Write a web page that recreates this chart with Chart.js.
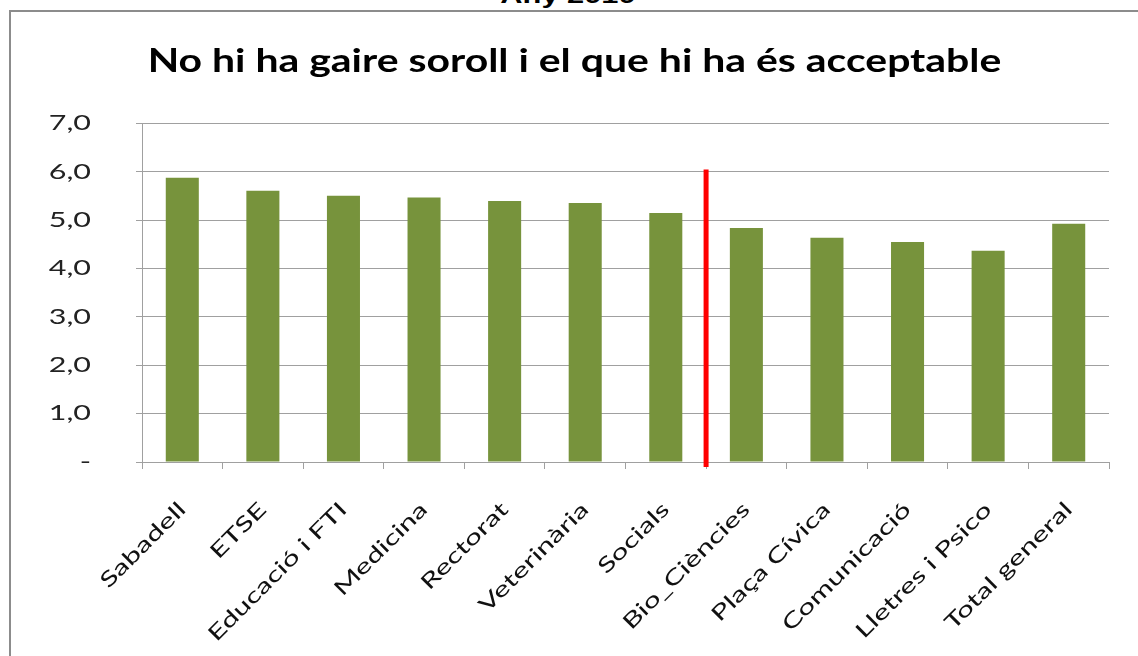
<!DOCTYPE html>
<html>
<head>
<meta charset="utf-8">
<script src="https://cdn.jsdelivr.net/npm/chart.js@4.4.0/dist/chart.umd.min.js"></script>
<style>
  html, body { margin: 0; padding: 0; background: #fff; }
  body { width: 1138px; height: 656px; position: relative; overflow: hidden; }
  .frame {
    position: absolute; left: 9px; top: 10px; width: 1200px; height: 700px;
    border-left: 2px solid #8c8c8c; border-top: 2px solid #8c8c8c;
  }
  .year {
    position: absolute; left: 0; width: 1136px; top: -15px; text-align: center;
    font: bold 22px "Liberation Sans", Arial, sans-serif; line-height: 22px; color: #000;
    transform: scaleX(1.4);
  }
  #wrap { position: absolute; left: 0; top: 0; width: 1138px; height: 656px; }
</style>
</head>
<body>
<div class="frame"></div>
<div class="year">Any 2010</div>
<div id="wrap"><canvas id="chart"></canvas></div>
<script>
const categories = [
  "Sabadell", "ETSE", "Educació i FTI", "Medicina", "Rectorat", "Veterinària",
  "Socials", "Bio_Ciències", "Plaça Cívica", "Comunicació", "Lletres i Psico", "Total general"
];
const scores = [5.88, 5.61, 5.51, 5.47, 5.40, 5.36, 5.15, 4.84, 4.64, 4.55, 4.37, 4.93];
const chartTitle = "No hi ha gaire soroll i el que hi ha és acceptable";
// red separator between Socials and Bio_Ciències
const splitAfter = 6;
const splitTop = 6.05;

// the original image has horizontally wide lettering, stretch text to match
const titleStretch = 1.24;
const labelStretch = 1.45;

const canvas = document.querySelector("#chart");
const ctx2d = canvas.getContext("2d");
const rawFillText = ctx2d.fillText;
ctx2d.fillText = function (text, x, y) {
  const sx = this.font.includes("bold") ? titleStretch : labelStretch;
  this.save();
  this.translate(x, y);
  this.scale(sx, 1);
  rawFillText.call(this, text, 0, 0);
  this.restore();
};

const separatorLine = {
  id: "separatorLine",
  afterDatasetsDraw(chart) {
    const { ctx, scales: { x, y } } = chart;
    const px = (x.getPixelForValue(splitAfter) + x.getPixelForValue(splitAfter + 1)) / 2;
    ctx.save();
    ctx.strokeStyle = "#ff0000";
    ctx.lineWidth = 5;
    ctx.beginPath();
    ctx.moveTo(px, y.getPixelForValue(splitTop));
    ctx.lineTo(px, y.getPixelForValue(0) + 5);
    ctx.stroke();
    ctx.restore();
  },
};

const font = "Lato, 'Open Sans', sans-serif";

new Chart(canvas, {
  type: "bar",
  data: {
    labels: categories,
    datasets: [
      {
        data: scores,
        backgroundColor: "#77933c",
        categoryPercentage: 1,
        barPercentage: 0.41,
      },
    ],
  },
  options: {
    responsive: true,
    maintainAspectRatio: false,
    animation: false,
    layout: { padding: { left: 40, right: 29, top: 0, bottom: 0 } },
    plugins: {
      legend: { display: false },
      tooltip: { enabled: false },
      title: {
        display: true,
        text: chartTitle,
        color: "#000",
        font: { family: font, size: 33, weight: "bold" },
        padding: { top: 42, bottom: 42 },
      },
    },
    scales: {
      y: {
        min: 0,
        max: 7,
        ticks: {
          stepSize: 1,
          color: "#222",
          padding: 45,
          font: { family: font, size: 21 },
          callback: (v) => (v === 0 ? "-" : v.toFixed(1).replace(".", ",")),
        },
        grid: { color: "#a0a0a0", tickLength: 6 },
        border: { color: "#a0a0a0" },
        afterFit: (s) => { s.width = 102; },
      },
      x: {
        ticks: {
          color: "#111",
          minRotation: 45,
          maxRotation: 45,
          padding: 28,
          font: { family: font, size: 21 },
        },
        grid: { drawOnChartArea: false, color: "#a0a0a0", tickLength: 7, offset: true },
        border: { color: "#a0a0a0" },
        afterFit: (s) => { s.height = 194; },
      },
    },
  },
  plugins: [separatorLine],
});
</script>
</body>
</html>
